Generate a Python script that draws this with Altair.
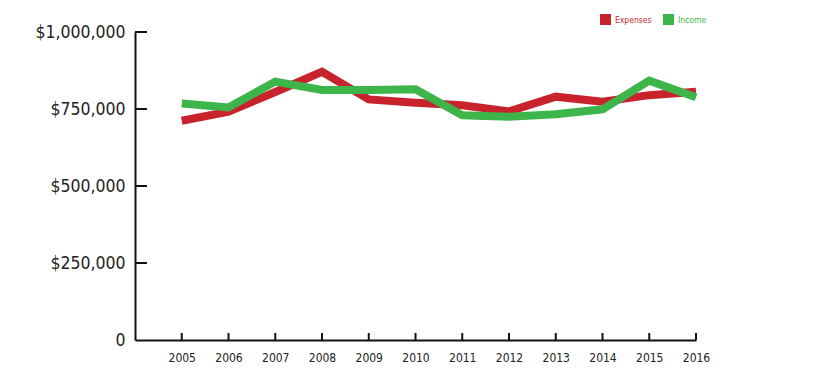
import altair as alt
import pandas as pd

years = list(range(2005, 2017))
expenses = [712000, 741000, 805000, 871000, 781000, 770000, 762000, 742000, 790000, 774000, 795000, 806000]
income = [768000, 755000, 839000, 812000, 812000, 814000, 730000, 725000, 733000, 749000, 842000, 788000]
series = ["Expenses", "Income"]
colors = ["#c8232c", "#3db54a"]
y_ticks = [0, 250000, 500000, 750000, 1000000]

df = pd.DataFrame({
    "year": years * 2,
    "value": expenses + income,
    "series": ["Expenses"] * len(years) + ["Income"] * len(years),
})

FONT = "DejaVu Sans Condensed"
W, H = 561, 308

x_scale = alt.Scale(domain=[2004, 2016], nice=False, zero=False)
y_scale = alt.Scale(domain=[0, 1000000], nice=False)

lines = alt.Chart(df).mark_line(strokeWidth=8, strokeJoin="miter", strokeCap="butt").encode(
    x=alt.X("year:Q", scale=x_scale, axis=alt.Axis(
        values=years, format="d", title=None, grid=False, ticks=False, labelFlush=False,
        labelFont=FONT, labelFontSize=12, labelColor="#222", labelPadding=12,
        domainColor="#111", domainWidth=2)),
    y=alt.Y("value:Q", scale=y_scale, axis=alt.Axis(
        values=y_ticks, title=None, grid=False, ticks=False,
        labelExpr="datum.value == 0 ? '0' : '$' + format(datum.value, ',')",
        labelFont=FONT, labelFontSize=17.5, labelColor="#222", labelPadding=10,
        domainColor="#111", domainWidth=2)),
    color=alt.Color("series:N", scale=alt.Scale(domain=series, range=colors), legend=alt.Legend(
        title=None, orient="none", legendX=465, legendY=-18, direction="horizontal",
        symbolType="square", symbolSize=25, symbolStrokeWidth=6, symbolOpacity=1,
        labelFont=FONT, labelFontSize=8.5, columnPadding=2, labelOffset=4,
        labelColor=alt.ExprRef("datum.value == 'Expenses' ? '#c8232c' : '#3db54a'"))),
)

ytick_df = pd.DataFrame({"v": y_ticks[1:]})
yticks = alt.Chart(ytick_df).mark_rule(color="#111", strokeWidth=2).encode(
    y=alt.Y("v:Q", scale=y_scale), x=alt.value(0), x2=alt.value(12))

xtick_df = pd.DataFrame({"yr": years})
xticks = alt.Chart(xtick_df).mark_rule(color="#111", strokeWidth=2).encode(
    x=alt.X("yr:Q", scale=x_scale), y=alt.value(H), y2=alt.value(H - 7))

chart = alt.layer(lines, yticks, xticks).properties(
    width=W, height=H,
    autosize=alt.AutoSizeParams(type="none"),
    padding={"left": 127, "top": 24, "right": 110, "bottom": 40},
).configure(background="white").configure_view(stroke=None)

chart.save("out.html", embed_options={"renderer": "svg", "actions": False})
